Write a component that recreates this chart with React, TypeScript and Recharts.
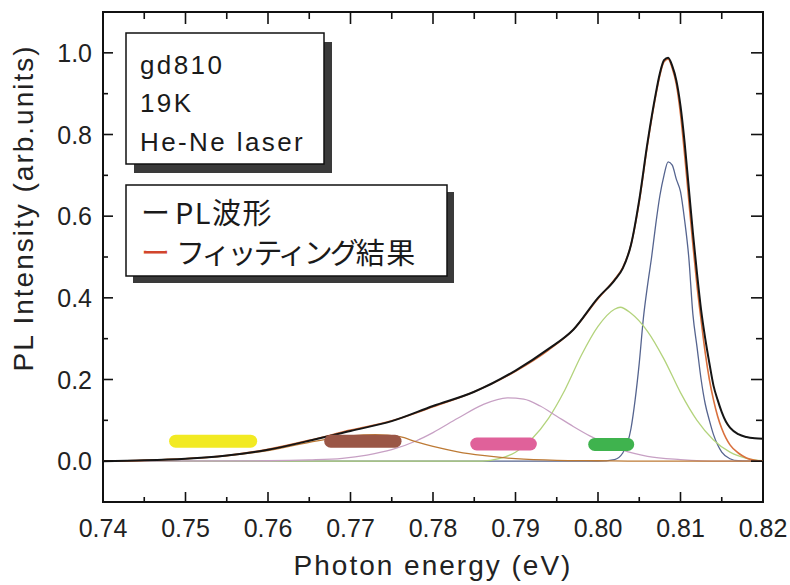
import { LineChart, Line, XAxis, YAxis, ReferenceArea, Label } from 'recharts'

// photon energy (eV) / intensity pairs
const PL_E = [0.74, 0.745, 0.75, 0.755, 0.76, 0.765, 0.77, 0.775, 0.78, 0.785, 0.79, 0.794, 0.797, 0.8, 0.802, 0.803, 0.804, 0.805, 0.806, 0.807, 0.8075, 0.808, 0.8085, 0.809, 0.8095, 0.81, 0.8105, 0.811, 0.8115, 0.812, 0.8125, 0.813, 0.8135, 0.814, 0.8145, 0.815, 0.8155, 0.816, 0.817, 0.818, 0.819, 0.82]
const PL_I = [0, 0.002, 0.006, 0.014, 0.028, 0.05, 0.074, 0.098, 0.135, 0.17, 0.222, 0.275, 0.322, 0.4, 0.443, 0.472, 0.53, 0.64, 0.78, 0.9, 0.95, 0.982, 0.988, 0.968, 0.932, 0.87, 0.78, 0.67, 0.56, 0.46, 0.37, 0.3, 0.24, 0.185, 0.15, 0.12, 0.097, 0.082, 0.066, 0.059, 0.056, 0.055]
const FIT_I = [0, 0.002, 0.006, 0.014, 0.029, 0.051, 0.076, 0.099, 0.133, 0.17, 0.22, 0.272, 0.322, 0.398, 0.445, 0.474, 0.53, 0.635, 0.775, 0.895, 0.945, 0.978, 0.985, 0.962, 0.922, 0.85, 0.75, 0.64, 0.53, 0.43, 0.345, 0.265, 0.2, 0.15, 0.11, 0.08, 0.057, 0.04, 0.02, 0.008, 0.002, 0]

const BLUE_E = [0.74, 0.8, 0.802, 0.803, 0.804, 0.8045, 0.805, 0.8055, 0.806, 0.8065, 0.807, 0.8075, 0.808, 0.8085, 0.809, 0.8095, 0.81, 0.8105, 0.811, 0.8115, 0.812, 0.8125, 0.813, 0.8135, 0.814, 0.8145, 0.815, 0.816, 0.817, 0.82]
const BLUE_I = [0, 0, 0.004, 0.02, 0.08, 0.15, 0.24, 0.35, 0.43, 0.5, 0.58, 0.65, 0.7, 0.733, 0.725, 0.69, 0.66, 0.59, 0.5, 0.36, 0.28, 0.2, 0.14, 0.1, 0.065, 0.04, 0.022, 0.006, 0.001, 0]

const GREEN_E = [0.74, 0.786, 0.788, 0.79, 0.792, 0.794, 0.796, 0.798, 0.8, 0.802, 0.8027, 0.804, 0.806, 0.808, 0.81, 0.812, 0.814, 0.816, 0.818, 0.82]
const GREEN_I = [0, 0, 0.006, 0.022, 0.055, 0.105, 0.175, 0.26, 0.33, 0.372, 0.377, 0.362, 0.318, 0.25, 0.168, 0.1, 0.052, 0.022, 0.007, 0.001]

const MAUVE_E = [0.74, 0.76, 0.765, 0.769, 0.772, 0.775, 0.778, 0.78, 0.783, 0.786, 0.789, 0.791, 0.793, 0.795, 0.797, 0.799, 0.801, 0.803, 0.806, 0.81, 0.815, 0.82]
const MAUVE_I = [0, 0.001, 0.003, 0.007, 0.015, 0.028, 0.05, 0.07, 0.105, 0.138, 0.155, 0.152, 0.135, 0.11, 0.085, 0.062, 0.043, 0.027, 0.012, 0.004, 0, 0]

const BROWN_E = [0.74, 0.745, 0.75, 0.755, 0.76, 0.765, 0.77, 0.773, 0.776, 0.778, 0.78, 0.783, 0.786, 0.79, 0.795, 0.8, 0.805, 0.82]
const BROWN_I = [0, 0.002, 0.006, 0.013, 0.026, 0.046, 0.062, 0.065, 0.06, 0.047, 0.036, 0.023, 0.014, 0.006, 0.002, 0.001, 0, 0]

// highlighter marks under each component
const MARK_FROM = [0.7488, 0.7676, 0.7853, 0.7996]
const MARK_TO = [0.7579, 0.7754, 0.7918, 0.8036]
const MARK_Y = [0.049, 0.049, 0.042, 0.041]
const MARK_COLORS = ['#f2ea22', '#9a5646', '#e0619a', '#3fb34e']

const X_TICKS = [0.74, 0.745, 0.75, 0.755, 0.76, 0.765, 0.77, 0.775, 0.78, 0.785, 0.79, 0.795, 0.8, 0.805, 0.81, 0.815, 0.82]
const Y_TICKS = [0, 0.1, 0.2, 0.3, 0.4, 0.5, 0.6, 0.7, 0.8, 0.9, 1.0]

const PLOT_W = 660
const PLOT_H = 490
const FONT = '"Liberation Sans", Arial, sans-serif'
const JP_FONT = '"Noto Sans CJK JP", sans-serif'

const toPoints = (e: number[], v: number[]) => e.map((x, i) => ({ x, y: v[i] }))

function XTick(props: any) {
  const { x, y, payload } = props
  const v = payload.value
  const major = Math.abs(v * 100 - Math.round(v * 100)) < 1e-6
  const len = major ? 10 : 5
  const top = y - PLOT_H
  return (
    <g>
      <line x1={x} x2={x} y1={y} y2={y - len} stroke="#111" strokeWidth={1.6} />
      <line x1={x} x2={x} y1={top} y2={top + len + 2} stroke="#111" strokeWidth={1.6} />
      {major && (
        <text x={x} y={y + 35} textAnchor="middle" fontSize={25} fontFamily={FONT} fill="#222">
          {v.toFixed(2)}
        </text>
      )}
    </g>
  )
}

function YTick(props: any) {
  const { x, y, payload } = props
  const v = payload.value
  const major = Math.round(v * 10) % 2 === 0
  const len = major ? 10 : 5
  const right = x + PLOT_W
  return (
    <g>
      <line x1={x} x2={x + len} y1={y} y2={y} stroke="#111" strokeWidth={1.6} />
      <line x1={right} x2={right - len - 2} y1={y} y2={y} stroke="#111" strokeWidth={1.6} />
      {major && (
        <text x={x - 11} y={y + 9} textAnchor="end" fontSize={25} fontFamily={FONT} fill="#222">
          {v.toFixed(1)}
        </text>
      )}
    </g>
  )
}

export default function App() {
  const components = [
    { key: 'blue', data: toPoints(BLUE_E, BLUE_I), color: '#55648f' },
    { key: 'green', data: toPoints(GREEN_E, GREEN_I), color: '#b3d37c' },
    { key: 'mauve', data: toPoints(MAUVE_E, MAUVE_I), color: '#c7a0c4' },
    { key: 'brown', data: toPoints(BROWN_E, BROWN_I), color: '#bd7a35' },
  ]

  return (
    <div style={{ position: 'fixed', left: 0, top: 0, width: 790, height: 585, background: '#fff' }}>
      <LineChart width={790} height={585} margin={{ top: 12, right: 27, bottom: 0, left: 0 }}>
        <XAxis
          dataKey="x"
          type="number"
          domain={[0.74, 0.82]}
          allowDataOverflow
          ticks={X_TICKS}
          interval={0}
          height={83}
          axisLine={false}
          tickLine={false}
          tickSize={0}
          tickMargin={0}
          tick={<XTick />}
        >
          <Label
            content={(p: any) => {
              const vb = p.viewBox || { x: 103, y: 502, width: PLOT_W }
              return (
                <text x={vb.x + vb.width / 2} y={vb.y + 73} textAnchor="middle" fontSize={28} letterSpacing={2} fontFamily={FONT} fill="#222">
                  Photon energy (eV)
                </text>
              )
            }}
          />
        </XAxis>
        <YAxis
          type="number"
          domain={[-0.1, 1.1]}
          allowDataOverflow
          ticks={Y_TICKS}
          interval={0}
          width={103}
          axisLine={false}
          tickLine={false}
          tickSize={0}
          tickMargin={0}
          tick={<YTick />}
        >
          <Label
            content={(p: any) => {
              const vb = p.viewBox || { x: 0, y: 12 }
              const cx = vb.x + 33
              const cy = vb.y + 196
              return (
                <text x={cx} y={cy} transform={`rotate(-90 ${cx} ${cy})`} textAnchor="middle" fontSize={28} letterSpacing={2} fontFamily={FONT} fill="#222">
                  PL Intensity (arb.units)
                </text>
              )
            }}
          />
        </YAxis>
        <ReferenceArea x1={0.74} x2={0.82} y1={-0.1} y2={1.1} fill="none" stroke="#111" strokeWidth={2} />
        {components.map((c) => (
          <Line
            key={c.key}
            data={c.data}
            dataKey="y"
            type="monotone"
            stroke={c.color}
            strokeWidth={1.3}
            dot={false}
            isAnimationActive={false}
          />
        ))}
        <Line data={toPoints(PL_E, FIT_I)} dataKey="y" type="monotone" stroke="#d9703d" strokeWidth={1.6} dot={false} isAnimationActive={false} />
        <Line data={toPoints(PL_E, PL_I)} dataKey="y" type="monotone" stroke="#151515" strokeWidth={2} dot={false} isAnimationActive={false} />
        {MARK_COLORS.map((color, i) => (
          <Line
            key={color}
            data={[
              { x: MARK_FROM[i], y: MARK_Y[i] },
              { x: MARK_TO[i], y: MARK_Y[i] },
            ]}
            dataKey="y"
            type="linear"
            stroke={color}
            strokeWidth={13}
            strokeLinecap="round"
            dot={false}
            isAnimationActive={false}
          />
        ))}
      </LineChart>
      <svg width={790} height={585} style={{ position: 'absolute', left: 0, top: 0, pointerEvents: 'none' }}>
        <rect x={134} y={42} width={198} height={131} fill="#3a3a3a" />
        <rect x={126} y={33} width={198} height={131} fill="#fff" stroke="#111" strokeWidth={1.5} />
        <g fontFamily={FONT} fontSize={26} fill="#1a1a1a" letterSpacing={2.4}>
          <text x={140} y={73.5}>gd810</text>
          <text x={140} y={112}>19K</text>
          <text x={140} y={150.5}>He-Ne laser</text>
        </g>
        <rect x={133} y={192} width={321} height={91} fill="#3a3a3a" />
        <rect x={126} y={185} width={321} height={91} fill="#fff" stroke="#111" strokeWidth={1.5} />
        <g fontFamily={JP_FONT} fontSize={29} fill="#1a1a1a">
          <text x={141} y={224}>
            <tspan letterSpacing={5}>ー</tspan>
            <tspan letterSpacing={1.5}>PL波形</tspan>
          </text>
          <text x={141} y={264}>
            <tspan fill="#d2452c" letterSpacing={6}>ー</tspan>
            <tspan letterSpacing={-3}>フィッティング</tspan>
            <tspan letterSpacing={1.5}>結果</tspan>
          </text>
        </g>
      </svg>
    </div>
  )
}
